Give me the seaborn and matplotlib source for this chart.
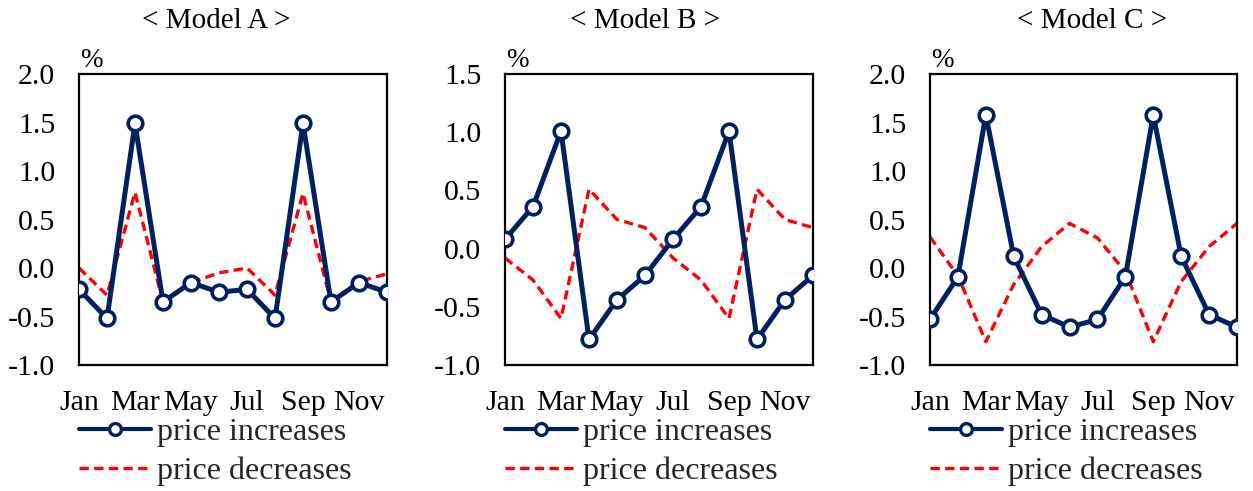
import matplotlib
matplotlib.use("Agg")
import matplotlib.pyplot as plt
from matplotlib.lines import Line2D
import seaborn as sns
import pandas as pd

months = ["Jan", "Feb", "Mar", "Apr", "May", "Jun",
          "Jul", "Aug", "Sep", "Oct", "Nov", "Dec"]

model_a_up = [-0.22, -0.52, 1.49, -0.35, -0.15, -0.25, -0.22, -0.52, 1.49, -0.35, -0.15, -0.25]
model_a_down = [0.00, -0.28, 0.78, -0.35, -0.15, -0.05, 0.00, -0.28, 0.77, -0.35, -0.14, -0.06]

model_b_up = [0.08, 0.36, 1.01, -0.78, -0.44, -0.23, 0.08, 0.36, 1.01, -0.78, -0.44, -0.23]
model_b_down = [-0.08, -0.27, -0.60, 0.51, 0.25, 0.18, -0.08, -0.27, -0.60, 0.51, 0.25, 0.18]

model_c_up = [-0.53, -0.09, 1.58, 0.12, -0.48, -0.61, -0.53, -0.09, 1.58, 0.12, -0.48, -0.61]
model_c_down = [0.32, -0.08, -0.76, -0.17, 0.22, 0.46, 0.31, -0.04, -0.76, -0.14, 0.22, 0.46]

titles = ["< Model A >", "< Model B >", "< Model C >"]
y_limits = [(-1.0, 2.0), (-1.0, 1.5), (-1.0, 2.0)]
series_labels = ["price increases", "price decreases"]

NAVY = "#002060"
RED = "#FF0000"

sns.set_theme(style="white")
plt.rcParams["font.family"] = ["Liberation Serif", "DejaVu Serif"]
plt.rcParams["axes.unicode_minus"] = False

W, H = 1253, 491
fig = plt.figure(figsize=(W / 100, H / 100), dpi=100)

# axes boxes in pixels: left, top, right, bottom
boxes = [(79, 74, 387, 365), (505, 74, 813, 365), (930, 74, 1237, 365)]
title_x = [216, 645, 1092]

panels = [(model_a_up, model_a_down), (model_b_up, model_b_down), (model_c_up, model_c_down)]

BLUE_KW = dict(color=NAVY, lw=3.6, marker="o", markersize=10.5,
               markerfacecolor="white", markeredgecolor=NAVY, markeredgewidth=2.6)
RED_KW = dict(color=RED, lw=2.4, linestyle=(0, (2.8, 1.6)))
BLUE_LEG = dict(color=NAVY, lw=3.0, marker="o", markersize=8.5,
                markerfacecolor="white", markeredgecolor=NAVY, markeredgewidth=2.4)
RED_LEG = dict(color=RED, lw=2.4, linestyle=(0, (2.8, 1.6)))

for i, ((up, down), (l, t, r, b)) in enumerate(zip(panels, boxes)):
    ax = fig.add_axes([l / W, 1 - b / H, (r - l) / W, (b - t) / H])
    df = pd.DataFrame({"x": range(len(months)), "up": up, "down": down})
    sns.lineplot(data=df, x="x", y="up", ax=ax, zorder=3, **BLUE_KW)
    sns.lineplot(data=df, x="x", y="down", ax=ax, zorder=2, **RED_KW)

    ax.set_xlim(0, len(months) - 1)
    lo, hi = y_limits[i]
    ax.set_ylim(lo, hi)
    yt = [lo + 0.5 * k for k in range(int(round((hi - lo) / 0.5)) + 1)]
    ax.set_yticks(yt)
    ax.set_yticklabels([f"{v:.1f}" for v in yt])
    ax.set_xticks(range(len(months)))
    ax.set_xticklabels([m if k % 2 == 0 else "" for k, m in enumerate(months)])
    ax.set_xlabel("")
    ax.set_ylabel("")
    ax.tick_params(axis="both", direction="in", length=7, width=1.5,
                   color="black", labelsize=21.5, labelcolor="black")
    ax.tick_params(axis="y", pad=17)
    ax.tick_params(axis="x", pad=18)
    for s in ax.spines.values():
        s.set_visible(True)
        s.set_linewidth(1.6)
        s.set_color("black")

    ax.text(0.005, 1.005, "%", transform=ax.transAxes, ha="left", va="bottom",
            fontsize=19.5, color="black")
    fig.text(title_x[i] / W, 1 - 21 / H, titles[i], ha="center", va="center",
             fontsize=21, color="black")

    handles = [Line2D([], [], **BLUE_LEG), Line2D([], [], **RED_LEG)]
    fig.legend(handles, series_labels, loc="upper left",
               bbox_to_anchor=(l / W, 1 - 418 / H), frameon=False,
               fontsize=23, handlelength=2.25, handletextpad=0.18,
               labelspacing=0.28, borderpad=0, borderaxespad=0)

fig.savefig("out.png", dpi=100)
